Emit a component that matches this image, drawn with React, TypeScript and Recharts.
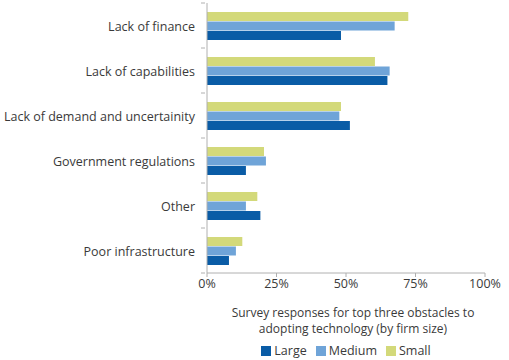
import React from 'react'
import { BarChart, Bar, XAxis, YAxis } from 'recharts'

const categories = [
  'Lack of finance',
  'Lack of capabilities',
  'Lack of demand and uncertainity',
  'Government regulations',
  'Other',
  'Poor infrastructure',
]
const small = [72.4, 60.4, 48.2, 20.5, 18.1, 12.7]
const medium = [67.5, 65.7, 47.6, 21.2, 14.0, 10.4]
const large = [48.2, 64.9, 51.4, 14.0, 19.2, 7.9]
const xTicks = [0, 25, 50, 75, 100]

const COLORS = { Large: '#0a5ca6', Medium: '#6fa4d8', Small: '#d3d97a' }
const FONT = '"Open Sans", sans-serif'
const TEXT = '#3a3a3a'
const AXIS = '#b0b0b0'

const W = 509
const H = 360
const M = { top: 3, right: 24, bottom: 67, left: 0 }
const X_AXIS_H = 20
const Y_AXIS_W = 207
const bandHalf = (H - M.top - M.bottom - X_AXIS_H) / categories.length / 2

const data = categories.map((name, i) => ({
  name,
  small: small[i],
  medium: medium[i],
  large: large[i],
}))

function CategoryTick(props: any) {
  const { x, y, payload, index } = props
  return (
    <g>
      <line x1={x - 4} x2={x} y1={y - bandHalf} y2={y - bandHalf} stroke={AXIS} />
      {index === categories.length - 1 && (
        <line x1={x - 4} x2={x} y1={y + bandHalf} y2={y + bandHalf} stroke={AXIS} />
      )}
      <text x={x - 10} y={y} dy={5} textAnchor="end" fontSize={12.5} fontFamily={FONT} fill={TEXT}>
        {payload.value}
      </text>
    </g>
  )
}

const legendItems = ['Large', 'Medium', 'Small'] as const

export default function App() {
  return (
    <div style={{ position: 'absolute', left: 0, top: 0, width: W, height: H, background: '#fff' }}>
      <BarChart
        width={W}
        height={H}
        data={data}
        layout="vertical"
        margin={M}
        barSize={9}
        barGap={0.5}
      >
        <XAxis
          type="number"
          domain={[0, 100]}
          ticks={xTicks}
          tickFormatter={(v) => `${v}%`}
          height={X_AXIS_H}
          stroke={AXIS}
          tickSize={4}
          tick={{ fontSize: 12.5, fontFamily: FONT, fill: TEXT }}
        />
        <YAxis
          type="category"
          dataKey="name"
          width={Y_AXIS_W}
          stroke={AXIS}
          tickLine={false}
          tickSize={0}
          tick={<CategoryTick />}
          interval={0}
        />
        <Bar dataKey="small" name="Small" fill={COLORS.Small} isAnimationActive={false} />
        <Bar dataKey="medium" name="Medium" fill={COLORS.Medium} isAnimationActive={false} />
        <Bar dataKey="large" name="Large" fill={COLORS.Large} isAnimationActive={false} />
      </BarChart>
      <div
        style={{
          position: 'absolute',
          left: 207,
          width: 292,
          top: 305,
          textAlign: 'center',
          fontFamily: FONT,
          fontSize: 12,
          color: TEXT,
          lineHeight: '16px',
        }}
      >
        <div>Survey responses for top three obstacles to</div>
        <div>adopting technology (by firm size)</div>
        <div style={{ marginTop: 6, display: 'flex', justifyContent: 'center', gap: 9, marginLeft: -14, fontSize: 12.5 }}>
          {legendItems.map((k) => (
            <span key={k} style={{ display: 'flex', alignItems: 'center', gap: 3 }}>
              <span style={{ width: 10, height: 10, background: COLORS[k], display: 'inline-block' }} />
              {k}
            </span>
          ))}
        </div>
      </div>
    </div>
  )
}
